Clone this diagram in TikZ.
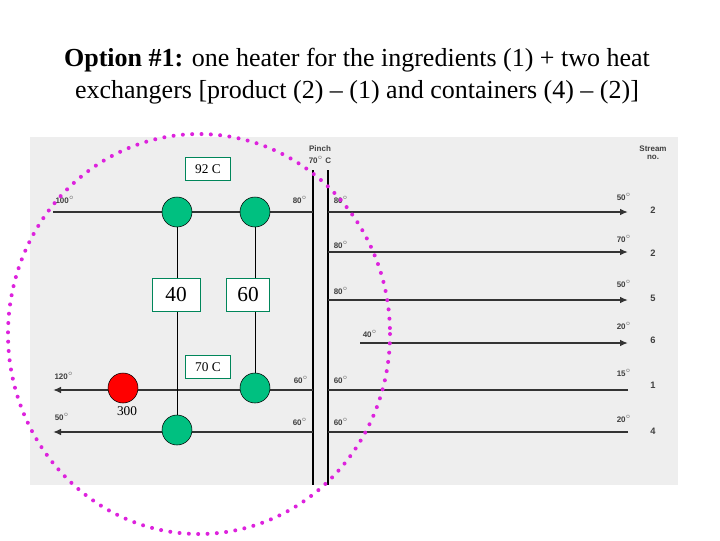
\documentclass[tikz,border=0pt]{standalone}
\usepackage{fontspec}
\setmainfont{Liberation Serif}
\newfontfamily\scanfont{Liberation Sans}
\usetikzlibrary{arrows.meta,shapes.geometric}
\definecolor{hxg}{HTML}{00C080}
\definecolor{scan}{HTML}{EEEEEE}
\definecolor{lilac}{HTML}{DD22DD}
\tikzset{
 sline/.style={line width=1.6pt,draw=black!80},
 sarrow/.style={sline,-{Latex[length=6pt,width=5pt]}},
 hx/.style={circle,draw=black,fill=hxg,minimum size=22.5pt,inner sep=0pt},
 heater/.style={circle,draw=black,fill=red,minimum size=22.5pt,inner sep=0pt},
 dbox/.style={draw=hxg!70!black,fill=white,inner sep=2pt},
 tl/.style={font=\scanfont\bfseries\fontsize{6}{7}\selectfont,text=black!75,align=center},
 nl/.style={tl,font=\scanfont\bfseries\fontsize{7}{8}\selectfont},
}
\begin{document}
\begin{tikzpicture}[x=0.75pt,y=-0.75pt]
\useasboundingbox (0,0) rectangle (720,540);
\fill[white] (0,0) rectangle (720,540);
\node[font=\fontsize{19.5}{23.5}\selectfont,align=center] (title) at (357,76)
 {\textbf{Option \#1:} one heater for the ingredients (1) + two heat\\exchangers [product (2) -- (1) and containers (4) -- (2)]};
\fill[scan] (30,137) rectangle (678,485);
% pinch
\draw[line width=1pt] (313,170) -- (313,485);
\draw[line width=1pt] (328,170) -- (328,485);
\node[tl] (pinch) at (320,149) {Pinch};
\node[tl] (pinchT) at (320,160) {70$^\circ$ C};
\node[tl] (sno) at (653,153) {Stream\\[-1pt]no.};
% coordinates
\coordinate (a1) at (53,212); \coordinate (a2) at (313,212);
\coordinate (a3) at (328,212); \coordinate (a4) at (628,212);
\coordinate (b1) at (328,252); \coordinate (b2) at (628,252);
\coordinate (c1) at (328,300); \coordinate (c2) at (628,300);
\coordinate (d1) at (360,343); \coordinate (d2) at (628,343);
\coordinate (e1) at (313,390); \coordinate (e2) at (53,390);
\coordinate (e3) at (628,390); \coordinate (e4) at (328,390);
\coordinate (f1) at (313,432); \coordinate (f2) at (53,432);
\coordinate (f3) at (628,432); \coordinate (f4) at (328,432);
\draw[sline] (a1) -- (a2);
\draw[sarrow] (a3) -- (a4);
\draw[sarrow] (b1) -- (b2);
\draw[sarrow] (c1) -- (c2);
\draw[sarrow] (d1) -- (d2);
\draw[sarrow] (e1) -- (e2);
\draw[sline] (e3) -- (e4);
\draw[sarrow] (f1) -- (f2);
\draw[sline] (f3) -- (f4);
% scan labels
\node[tl] (l1) at (65,200) {100$^\circ$};
\node[tl] (l2) at (300,200) {80$^\circ$};
\node[tl] (l3) at (341,200) {80$^\circ$};
\node[tl] (l4) at (341,245) {80$^\circ$};
\node[tl] (l5) at (341,291) {80$^\circ$};
\node[tl] (l6) at (370,334) {40$^\circ$};
\node[tl] (l7) at (64,376) {120$^\circ$};
\node[tl] (l8) at (301,380) {60$^\circ$};
\node[tl] (l9) at (341,380) {60$^\circ$};
\node[tl] (l10) at (62,417) {50$^\circ$};
\node[tl] (l11) at (300,422) {60$^\circ$};
\node[tl] (l12) at (341,422) {60$^\circ$};
\node[tl] (r1) at (624,197) {50$^\circ$};
\node[tl] (r2) at (624,239) {70$^\circ$};
\node[tl] (r3) at (624,284) {50$^\circ$};
\node[tl] (r4) at (624,326) {20$^\circ$};
\node[tl] (r5) at (624,373) {15$^\circ$};
\node[tl] (r6) at (624,419) {20$^\circ$};
\node[nl] (n1) at (653,210) {2};
\node[nl] (n2) at (653,253) {2};
\node[nl] (n3) at (653,298) {5};
\node[nl] (n4) at (653,340) {6};
\node[nl] (n5) at (653,385) {1};
\node[nl] (n6) at (653,431) {4};
% exchangers
\node[hx] (h1) at (177,212) {};
\node[hx] (h2) at (255,212) {};
\node[hx] (h3) at (255,388) {};
\node[hx] (h4) at (177,430) {};
\node[heater] (hr) at (123,388) {};
\node[font=\fontsize{10}{12}\selectfont] (q) at (127,411) {300};
\node[dbox,minimum width=36pt,minimum height=25pt,font=\fontsize{16}{18}\selectfont] (d40) at (176,295) {40};
\node[dbox,minimum width=32pt,minimum height=25pt,font=\fontsize{16}{18}\selectfont] (d60) at (248,295) {60};
\node[dbox,minimum width=34pt,minimum height=17pt,font=\fontsize{10}{12}\selectfont] (t92) at (208,169) {92 C};
\node[dbox,minimum width=34pt,minimum height=17pt,font=\fontsize{10}{12}\selectfont] (t70) at (208,367) {70 C};
\draw (h1) -- (h1 |- d40.north); \draw (h4 |- d40.south) -- (h4);
\draw (h2) -- (h2 |- d60.north); \draw (h3 |- d60.south) -- (h3);
% dotted ellipse
\draw[lilac,line width=3pt,line cap=round,dash pattern=on 0pt off 7pt] (199,334) ellipse [x radius=191,y radius=200];
\end{tikzpicture}
\end{document}
